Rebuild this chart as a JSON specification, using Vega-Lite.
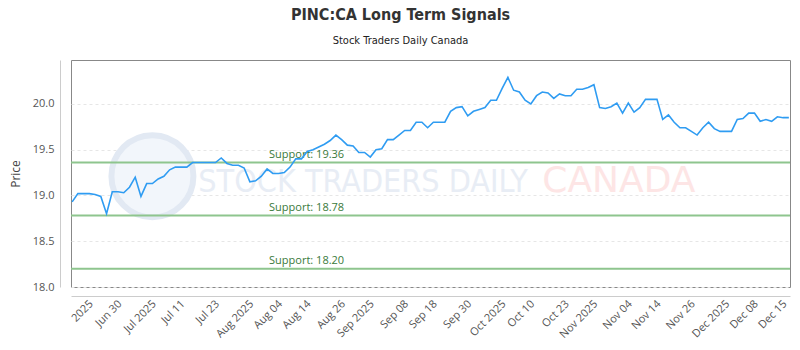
{
  "$schema": "https://vega.github.io/schema/vega-lite/v6.json",
  "width": 719,
  "height": 227,
  "autosize": {"type": "none"},
  "padding": {"left": 71, "top": 60, "right": 10, "bottom": 63},
  "background": "#ffffff",
  "title": {
    "text": "PINC:CA Long Term Signals",
    "subtitle": "Stock Traders Daily Canada",
    "anchor": "middle",
    "dx": -30,
    "offset": 14,
    "font": "DejaVu Sans Condensed",
    "fontSize": 16,
    "fontWeight": "bold",
    "color": "#333333",
    "subtitleFont": "DejaVu Sans Condensed",
    "subtitleFontSize": 11,
    "subtitleColor": "#222222",
    "subtitlePadding": 12
  },
  "config": {
    "view": {"stroke": "#888888", "strokeWidth": 1},
    "axis": {
      "labelFont": "Open Sans",
      "labelFontSize": 11,
      "labelColor": "#555555",
      "titleFont": "Open Sans",
      "titleFontWeight": "normal",
      "titleFontSize": 12,
      "titleColor": "#444444",
      "domainColor": "#cccccc",
      "ticks": false,
      "tickSize": 0
    }
  },
  "datasets": {
    "prices": [
      {"date": "2025-06-17", "price": 18.93},
      {"date": "2025-06-18", "price": 19.02},
      {"date": "2025-06-19", "price": 19.02},
      {"date": "2025-06-20", "price": 19.02},
      {"date": "2025-06-23", "price": 19.01},
      {"date": "2025-06-24", "price": 18.99},
      {"date": "2025-06-25", "price": 18.80},
      {"date": "2025-06-26", "price": 19.04},
      {"date": "2025-06-27", "price": 19.04},
      {"date": "2025-06-30", "price": 19.03},
      {"date": "2025-07-02", "price": 19.09},
      {"date": "2025-07-03", "price": 19.20},
      {"date": "2025-07-04", "price": 18.99},
      {"date": "2025-07-07", "price": 19.13},
      {"date": "2025-07-08", "price": 19.13},
      {"date": "2025-07-09", "price": 19.18},
      {"date": "2025-07-10", "price": 19.21},
      {"date": "2025-07-11", "price": 19.28},
      {"date": "2025-07-14", "price": 19.31},
      {"date": "2025-07-15", "price": 19.31},
      {"date": "2025-07-16", "price": 19.31},
      {"date": "2025-07-17", "price": 19.36},
      {"date": "2025-07-18", "price": 19.36},
      {"date": "2025-07-21", "price": 19.36},
      {"date": "2025-07-22", "price": 19.36},
      {"date": "2025-07-23", "price": 19.36},
      {"date": "2025-07-24", "price": 19.41},
      {"date": "2025-07-25", "price": 19.35},
      {"date": "2025-07-28", "price": 19.33},
      {"date": "2025-07-29", "price": 19.33},
      {"date": "2025-07-30", "price": 19.30},
      {"date": "2025-07-31", "price": 19.15},
      {"date": "2025-08-01", "price": 19.16},
      {"date": "2025-08-05", "price": 19.21},
      {"date": "2025-08-06", "price": 19.29},
      {"date": "2025-08-07", "price": 19.24},
      {"date": "2025-08-08", "price": 19.24},
      {"date": "2025-08-11", "price": 19.25},
      {"date": "2025-08-12", "price": 19.31},
      {"date": "2025-08-13", "price": 19.40},
      {"date": "2025-08-14", "price": 19.40},
      {"date": "2025-08-15", "price": 19.48},
      {"date": "2025-08-18", "price": 19.50},
      {"date": "2025-08-19", "price": 19.53},
      {"date": "2025-08-20", "price": 19.56},
      {"date": "2025-08-21", "price": 19.60},
      {"date": "2025-08-22", "price": 19.66},
      {"date": "2025-08-25", "price": 19.61},
      {"date": "2025-08-26", "price": 19.55},
      {"date": "2025-08-27", "price": 19.54},
      {"date": "2025-08-28", "price": 19.47},
      {"date": "2025-08-29", "price": 19.47},
      {"date": "2025-09-02", "price": 19.42},
      {"date": "2025-09-03", "price": 19.50},
      {"date": "2025-09-04", "price": 19.51},
      {"date": "2025-09-05", "price": 19.61},
      {"date": "2025-09-08", "price": 19.61},
      {"date": "2025-09-09", "price": 19.66},
      {"date": "2025-09-10", "price": 19.71},
      {"date": "2025-09-11", "price": 19.71},
      {"date": "2025-09-12", "price": 19.80},
      {"date": "2025-09-15", "price": 19.80},
      {"date": "2025-09-16", "price": 19.74},
      {"date": "2025-09-17", "price": 19.80},
      {"date": "2025-09-18", "price": 19.80},
      {"date": "2025-09-19", "price": 19.80},
      {"date": "2025-09-22", "price": 19.92},
      {"date": "2025-09-23", "price": 19.96},
      {"date": "2025-09-24", "price": 19.97},
      {"date": "2025-09-25", "price": 19.87},
      {"date": "2025-09-26", "price": 19.92},
      {"date": "2025-09-29", "price": 19.94},
      {"date": "2025-09-30", "price": 19.96},
      {"date": "2025-10-01", "price": 20.04},
      {"date": "2025-10-02", "price": 20.04},
      {"date": "2025-10-03", "price": 20.17},
      {"date": "2025-10-06", "price": 20.29},
      {"date": "2025-10-07", "price": 20.15},
      {"date": "2025-10-08", "price": 20.13},
      {"date": "2025-10-09", "price": 20.04},
      {"date": "2025-10-10", "price": 20.00},
      {"date": "2025-10-14", "price": 20.09},
      {"date": "2025-10-15", "price": 20.13},
      {"date": "2025-10-16", "price": 20.12},
      {"date": "2025-10-17", "price": 20.06},
      {"date": "2025-10-20", "price": 20.11},
      {"date": "2025-10-21", "price": 20.09},
      {"date": "2025-10-22", "price": 20.09},
      {"date": "2025-10-23", "price": 20.16},
      {"date": "2025-10-24", "price": 20.16},
      {"date": "2025-10-27", "price": 20.18},
      {"date": "2025-10-28", "price": 20.21},
      {"date": "2025-10-29", "price": 19.96},
      {"date": "2025-10-30", "price": 19.95},
      {"date": "2025-10-31", "price": 19.97},
      {"date": "2025-11-03", "price": 20.01},
      {"date": "2025-11-04", "price": 19.90},
      {"date": "2025-11-05", "price": 20.01},
      {"date": "2025-11-06", "price": 19.91},
      {"date": "2025-11-07", "price": 19.96},
      {"date": "2025-11-10", "price": 20.05},
      {"date": "2025-11-11", "price": 20.05},
      {"date": "2025-11-12", "price": 20.05},
      {"date": "2025-11-13", "price": 19.83},
      {"date": "2025-11-14", "price": 19.88},
      {"date": "2025-11-17", "price": 19.80},
      {"date": "2025-11-18", "price": 19.74},
      {"date": "2025-11-19", "price": 19.74},
      {"date": "2025-11-20", "price": 19.70},
      {"date": "2025-11-21", "price": 19.66},
      {"date": "2025-11-24", "price": 19.74},
      {"date": "2025-11-25", "price": 19.80},
      {"date": "2025-11-26", "price": 19.73},
      {"date": "2025-11-27", "price": 19.70},
      {"date": "2025-11-28", "price": 19.70},
      {"date": "2025-12-01", "price": 19.70},
      {"date": "2025-12-02", "price": 19.83},
      {"date": "2025-12-03", "price": 19.84},
      {"date": "2025-12-04", "price": 19.90},
      {"date": "2025-12-05", "price": 19.90},
      {"date": "2025-12-08", "price": 19.81},
      {"date": "2025-12-09", "price": 19.83},
      {"date": "2025-12-10", "price": 19.81},
      {"date": "2025-12-11", "price": 19.86},
      {"date": "2025-12-12", "price": 19.85},
      {"date": "2025-12-15", "price": 19.85}
    ],
    "supports": [
      {"level": 19.36, "label": "Support: 19.36"},
      {"level": 18.78, "label": "Support: 18.78"},
      {"level": 18.20, "label": "Support: 18.20"}
    ],
    "watermark": [
      {"brand": "STOCK TRADERS DAILY", "region": "CANADA"}
    ]
  },
  "layer": [
    {
      "data": {"name": "watermark"},
      "mark": {"type": "point", "shape": "circle", "size": 6724, "filled": true, "fill": "#f2f6fb", "stroke": "#e2e9f3", "strokeWidth": 6, "opacity": 1},
      "encoding": {
        "x": {"datum": "2025-07-08", "type": "ordinal"},
        "y": {"datum": 19.21, "type": "quantitative"}
      }
    },
    {
      "data": {"name": "watermark"},
      "mark": {"type": "text", "font": "DejaVu Sans Condensed", "fontSize": 32, "align": "left", "baseline": "alphabetic", "color": "#e8edf5"},
      "encoding": {
        "x": {"datum": "2025-07-18", "type": "ordinal"},
        "y": {"datum": 19.04, "type": "quantitative"},
        "text": {"field": "brand"}
      }
    },
    {
      "data": {"name": "watermark"},
      "mark": {"type": "text", "font": "DejaVu Sans", "fontSize": 36, "align": "left", "baseline": "alphabetic", "color": "#fde5e5"},
      "encoding": {
        "x": {"datum": "2025-10-15", "type": "ordinal"},
        "y": {"datum": 19.04, "type": "quantitative"},
        "text": {"field": "region"}
      }
    },
    {
      "data": {"name": "supports"},
      "mark": {"type": "rule", "color": "#8ec58e", "strokeWidth": 2},
      "encoding": {
        "y": {"field": "level", "type": "quantitative"}
      }
    },
    {
      "data": {"name": "supports"},
      "mark": {"type": "text", "font": "Open Sans", "fontSize": 11, "align": "left", "baseline": "alphabetic", "dx": 2, "dy": -5, "color": "#3a7a3a"},
      "encoding": {
        "x": {"datum": "2025-08-06", "type": "ordinal"},
        "y": {"field": "level", "type": "quantitative"},
        "text": {"field": "label"}
      }
    },
    {
      "data": {"name": "prices"},
      "mark": {"type": "line", "color": "#2f9cf2", "strokeWidth": 1.6, "interpolate": "linear"},
      "encoding": {
        "x": {
          "field": "date",
          "type": "ordinal",
          "sort": "ascending",
          "scale": {"type": "point", "padding": 0.2},
          "axis": {
            "title": null,
            "orient": "bottom",
            "offset": 9,
            "labelAngle": -45,
            "labelAlign": "right",
            "labelBaseline": "middle",
            "labelOffset": -4,
            "labelPadding": 6,
            "labelOverlap": false,
            "labelBound": false,
            "grid": false,
            "values": ["2025-06-23", "2025-06-30", "2025-07-09", "2025-07-16", "2025-07-24", "2025-08-01", "2025-08-11", "2025-08-18", "2025-08-26", "2025-09-03", "2025-09-11", "2025-09-18", "2025-09-26", "2025-10-06", "2025-10-14", "2025-10-22", "2025-10-29", "2025-11-06", "2025-11-13", "2025-11-21", "2025-12-01", "2025-12-08", "2025-12-15"],
            "labelExpr": "['2025','Jun 30','Jul 2025','Jul 11','Jul 23','Aug 2025','Aug 04','Aug 14','Aug 26','Sep 2025','Sep 08','Sep 18','Sep 30','Oct 2025','Oct 10','Oct 23','Nov 2025','Nov 04','Nov 14','Nov 26','Dec 2025','Dec 08','Dec 15'][indexof(['2025-06-23','2025-06-30','2025-07-09','2025-07-16','2025-07-24','2025-08-01','2025-08-11','2025-08-18','2025-08-26','2025-09-03','2025-09-11','2025-09-18','2025-09-26','2025-10-06','2025-10-14','2025-10-22','2025-10-29','2025-11-06','2025-11-13','2025-11-21','2025-12-01','2025-12-08','2025-12-15'], datum.value)]"
          }
        },
        "y": {
          "field": "price",
          "type": "quantitative",
          "scale": {"domain": [18, 20.48], "nice": false, "zero": false},
          "axis": {
            "title": "Price",
            "orient": "left",
            "offset": 11,
            "values": [18, 18.5, 19, 19.5, 20],
            "format": ".1f",
            "labelPadding": 6,
            "titlePadding": 10,
            "grid": true,
            "gridColor": "#e6e6e6",
            "gridDash": [3, 3]
          }
        }
      }
    }
  ]
}
